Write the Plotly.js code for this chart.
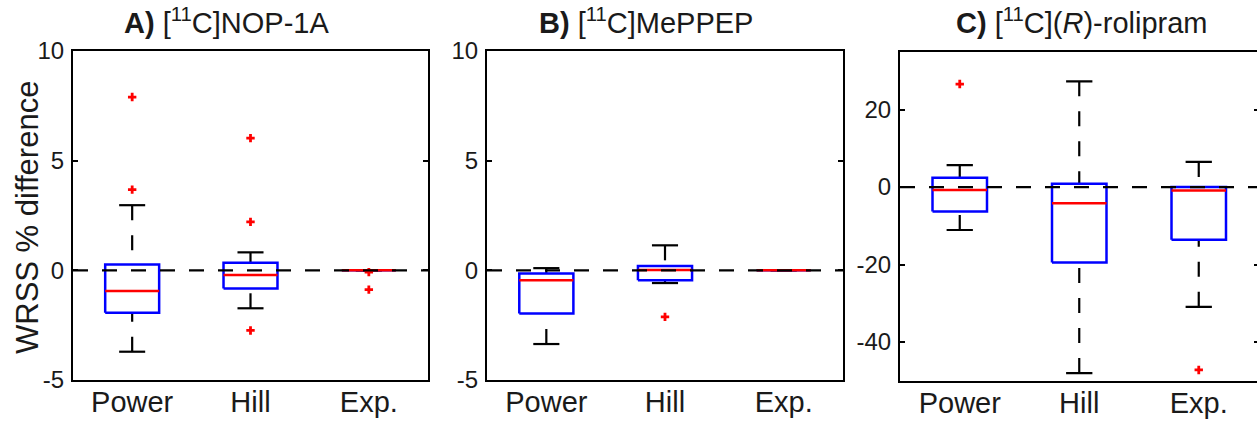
<!DOCTYPE html>
<html>
<head>
<meta charset="utf-8">
<script src="https://cdn.plot.ly/plotly-3.0.1.min.js"></script>
<style>
html,body{margin:0;padding:0;overflow:hidden;background:#fff;}
#chart{width:1262px;height:423px;}
</style>
</head>
<body>
<div id="chart"></div>
<script>
// ---------- data ----------
const categories = ['Power', 'Hill', 'Exp.'];
const catPos = [1, 2, 3];

// Panel A: [11C]NOP-1A
const aLow    = [-3.71, -1.73, 0];
const aQ1     = [-1.93, -0.83, 0];
const aMedian = [-0.94, -0.21, 0];
const aQ3     = [0.27, 0.35, 0];
const aHigh   = [2.97, 0.82, 0];
const aOutX   = [1, 1, 2, 2, 2, 3, 3];
const aOutY   = [7.9, 3.68, 6.03, 2.21, -2.74, -0.08, -0.88];

// Panel B: [11C]MePPEP
const bLow    = [-3.36, -0.58, 0];
const bQ1     = [-1.97, -0.45, 0];
const bMedian = [-0.45, 0.02, 0];
const bQ3     = [-0.15, 0.2, 0];
const bHigh   = [0.1, 1.14, 0];
const bOutX   = [2];
const bOutY   = [-2.12];

// Panel C: [11C](R)-rolipram
const cLow    = [-11.07, -48.0, -30.9];
const cQ1     = [-6.33, -19.46, -13.6];
const cMedian = [-0.77, -4.2, -0.85];
const cQ3     = [2.42, 0.87, 0];
const cHigh   = [5.66, 27.3, 6.5];
const cOutX   = [1, 3];
const cOutY   = [26.6, -47.2];

// tick values and labels
const abTickVals = [-5, 0, 5, 10];
const abTickText = ['-5', '0', '5', '10'];
const cTickVals  = [-40, -20, 0, 20];
const cTickText  = ['-40', '-20', '0', '20'];

const titles = [
  '<b>A)</b> [<sup>11</sup>C]NOP-1A',
  '<b>B)</b> [<sup>11</sup>C]MePPEP',
  '<b>C)</b> [<sup>11</sup>C](<i>R</i>)-rolipram'
];
const yTitle = 'WRSS % difference';

// ---------- style / geometry ----------
const W = 1262, H = 423;
const BOX_HW = 0.228, CAP_HW = 0.11;
const FONT = '"Liberation Sans", Arial, sans-serif';
const TXT = '#1a1a1a';

function boxTraces(low, q1, med, q3, high, outX, outY, xa, ya) {
  const wx = [], wy = [], cx = [], cy = [], bx = [], by = [], mx = [], my = [];
  catPos.forEach((c, i) => {
    wx.push(c, c, null, c, c, null);
    wy.push(high[i], q3[i], null, low[i], q1[i], null);
    cx.push(c - CAP_HW, c + CAP_HW, null, c - CAP_HW, c + CAP_HW, null);
    cy.push(high[i], high[i], null, low[i], low[i], null);
    bx.push(c - BOX_HW, c + BOX_HW, c + BOX_HW, c - BOX_HW, c - BOX_HW, null);
    by.push(q1[i], q1[i], q3[i], q3[i], q1[i], null);
    mx.push(c - BOX_HW, c + BOX_HW, null);
    my.push(med[i], med[i], null);
  });
  const common = {type: 'scatter', mode: 'lines', xaxis: xa, yaxis: ya, hoverinfo: 'skip', showlegend: false};
  return [
    Object.assign({x: wx, y: wy, line: {color: '#000', width: 2.2, dash: '15px,15px'}}, common),
    Object.assign({x: cx, y: cy, line: {color: '#000', width: 2.2}}, common),
    Object.assign({x: bx, y: by, line: {color: '#0000ff', width: 2.5}}, common),
    Object.assign({x: mx, y: my, line: {color: '#ff0000', width: 2.5}}, common),
    {type: 'scatter', mode: 'markers', x: outX, y: outY, xaxis: xa, yaxis: ya, showlegend: false,
     hoverinfo: 'skip', marker: {symbol: 'cross', size: 7, color: '#ff0000', line: {width: 0}}}
  ];
}

const data = [].concat(
  boxTraces(aLow, aQ1, aMedian, aQ3, aHigh, aOutX, aOutY, 'x', 'y'),
  boxTraces(bLow, bQ1, bMedian, bQ3, bHigh, bOutX, bOutY, 'x2', 'y2'),
  boxTraces(cLow, cQ1, cMedian, cQ3, cHigh, cOutX, cOutY, 'x3', 'y3')
);

function px(x) { return x / W; }
function py(y) { return 1 - y / H; }

function xAxis(l, r, anchor) {
  return {
    domain: [px(l), px(r)], anchor: anchor, range: [0.5, 3.5], tickvals: catPos, ticktext: categories,
    ticks: '', showline: true, linecolor: '#000', linewidth: 2, mirror: true,
    showgrid: false, zeroline: false, fixedrange: true,
    tickfont: {family: FONT, size: 29, color: TXT}, ticklabelstandoff: -5
  };
}
function yAxis(t, b, anchor, range, tv, tt) {
  return {
    domain: [py(b), py(t)], anchor: anchor, range: range, tickvals: tv, ticktext: tt,
    ticks: 'inside', ticklen: 5, tickwidth: 2, tickcolor: '#000',
    showline: true, linecolor: '#000', linewidth: 2, mirror: 'ticks',
    showgrid: false, zeroline: false, fixedrange: true,
    tickfont: {family: FONT, size: 24, color: TXT}, ticklabelstandoff: 2
  };
}

const zeroLine = (xa, ya) => ({
  type: 'line', xref: xa + ' domain', x0: 0, x1: 1, yref: ya, y0: 0, y1: 0,
  layer: 'above', line: {color: '#000', width: 2.2, dash: '15px,14px'}
});

const titleFont = {family: FONT, size: 29, color: TXT};
const layout = {
  width: W, height: H,
  margin: {l: 0, r: 0, t: 0, b: 0},
  paper_bgcolor: '#fff', plot_bgcolor: '#fff',
  showlegend: false,
  font: {family: FONT, color: TXT},
  xaxis: xAxis(73, 428, 'y'),
  yaxis: yAxis(51, 380, 'x', [-5, 10], abTickVals, abTickText),
  xaxis2: xAxis(487, 843, 'y2'),
  yaxis2: yAxis(51, 380, 'x2', [-5, 10], abTickVals, abTickText),
  xaxis3: xAxis(900, 1258.5, 'y3'),
  yaxis3: yAxis(51.5, 380.8, 'x3', [-50, 35], cTickVals, cTickText),
  shapes: [zeroLine('x', 'y'), zeroLine('x2', 'y2'), zeroLine('x3', 'y3')],
  annotations: [
    {text: titles[0], xref: 'paper', yref: 'paper', x: px(226), y: py(21), xanchor: 'center', yanchor: 'middle', showarrow: false, font: titleFont},
    {text: titles[1], xref: 'paper', yref: 'paper', x: px(646), y: py(21), xanchor: 'center', yanchor: 'middle', showarrow: false, font: titleFont},
    {text: titles[2], xref: 'paper', yref: 'paper', x: px(1081), y: py(21), xanchor: 'center', yanchor: 'middle', showarrow: false, font: titleFont},
    {text: yTitle, xref: 'paper', yref: 'paper', x: px(27.5), y: py(217.5), xanchor: 'center', yanchor: 'middle', textangle: -90, showarrow: false, font: {family: FONT, size: 31, color: TXT}}
  ]
};

Plotly.newPlot('chart', data, layout, {displayModeBar: false, staticPlot: true});
</script>
</body>
</html>
